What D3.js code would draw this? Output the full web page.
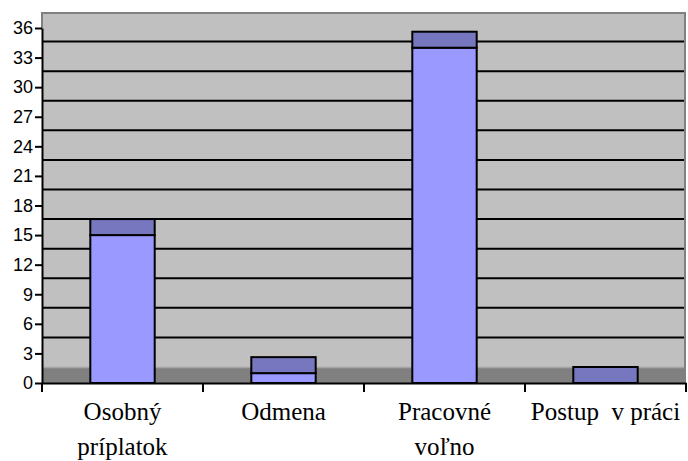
<!DOCTYPE html>
<html>
<head>
<meta charset="utf-8">
<script src="https://cdn.jsdelivr.net/npm/d3@7"></script>
<style>
  html, body { margin: 0; padding: 0; background: #fff; }
  svg { display: block; }
</style>
</head>
<body>
<svg id="chart" width="688" height="461"></svg>
<script>
// Benefit categories and their counts
const categories = ["Osobný príplatok", "Odmena", "Pracovné voľno", "Postup  v práci"];
const labelLines = [["Osobný", "príplatok"], ["Odmena"], ["Pracovné", "voľno"], ["Postup  v práci"]];
const values = [15, 1, 34, 0];
const yTicks = [0, 3, 6, 9, 12, 15, 18, 21, 24, 27, 30, 33, 36];

const svg = d3.select("#chart");
const plotLeft = 42, plotRight = 686, plotBottom = 383, plotTop = 28;
const depth = 16; // vertical offset of the back wall / column tops

const x = d3.scaleBand().domain(categories).range([plotLeft, plotRight]).paddingInner(0).paddingOuter(0);
const y = d3.scaleLinear().domain([0, 36]).range([plotBottom, plotTop]);

// Back wall
svg.append("rect")
  .attr("x", plotLeft).attr("y", y(36) - depth)
  .attr("width", plotRight - plotLeft - 1).attr("height", y(0) - y(36))
  .attr("fill", "#c0c0c0");

// Wall border (left stub, top and right)
svg.append("path")
  .attr("d", `M${plotLeft},${y(36)}V${y(36) - depth + 1}H${plotRight - 1}V${plotBottom}`)
  .attr("fill", "none").attr("stroke", "#808080").attr("stroke-width", 2);

// Floor
svg.append("rect")
  .attr("x", plotLeft).attr("y", y(0) - depth)
  .attr("width", plotRight - plotLeft - 2).attr("height", depth)
  .attr("fill", "#808080");
svg.append("line")
  .attr("x1", plotLeft).attr("x2", plotRight - 2)
  .attr("y1", y(0) - depth + 0.5).attr("y2", y(0) - depth + 0.5)
  .attr("stroke", "#a4a4a4").attr("stroke-width", 1.5);

// Gridlines on the back wall
svg.append("g").selectAll("line")
  .data(yTicks.filter(d => d > 0 && d < 36))
  .join("line")
  .attr("x1", plotLeft).attr("x2", plotRight - 2)
  .attr("y1", d => y(d) - depth).attr("y2", d => y(d) - depth)
  .attr("stroke", "#000").attr("stroke-width", 2);

// Columns: front face plus darker top face
const bw = x.bandwidth() * 0.4;
const cols = svg.append("g").selectAll("g")
  .data(categories.map((c, i) => ({ c, v: values[i] })))
  .join("g");

cols.filter(d => d.v > 0).append("rect")
  .attr("x", d => x(d.c) + (x.bandwidth() - bw) / 2)
  .attr("y", d => y(d.v))
  .attr("width", bw)
  .attr("height", d => y(0) - y(d.v))
  .attr("fill", "#9999ff").attr("stroke", "#000").attr("stroke-width", 2);

cols.append("rect")
  .attr("x", d => x(d.c) + (x.bandwidth() - bw) / 2)
  .attr("y", d => y(d.v) - depth)
  .attr("width", bw)
  .attr("height", depth)
  .attr("fill", "#7777bf").attr("stroke", "#000").attr("stroke-width", 2);

// Y axis
const yAxis = svg.append("g")
  .attr("transform", `translate(${plotLeft},0)`)
  .call(d3.axisLeft(y).tickValues(yTicks).tickSize(7).tickPadding(2).tickSizeOuter(0));
yAxis.select(".domain").attr("stroke", "#000").attr("stroke-width", 2);
yAxis.selectAll(".tick line").attr("stroke", "#000").attr("stroke-width", 2);
yAxis.selectAll(".tick text")
  .style("font-family", "'Liberation Sans', Arial, sans-serif")
  .style("font-size", "18px").attr("fill", "#000");

// X axis
const xAxis = svg.append("g")
  .attr("transform", `translate(0,${plotBottom})`)
  .call(d3.axisBottom(x).tickSize(0).tickSizeOuter(0).tickFormat(""));
xAxis.select(".domain").attr("stroke", "#000").attr("stroke-width", 2);

// Category separators below the axis
const bounds = categories.map(c => x(c)).concat([plotRight]);
svg.append("g").selectAll("line")
  .data(bounds)
  .join("line")
  .attr("x1", d => d).attr("x2", d => d)
  .attr("y1", plotBottom).attr("y2", plotBottom + 9)
  .attr("stroke", "#000").attr("stroke-width", 2);

// Category labels
const labels = svg.append("g").selectAll("text")
  .data(categories.map((c, i) => ({ c, lines: labelLines[i] })))
  .join("text")
  .attr("x", d => x(d.c) + x.bandwidth() / 2)
  .attr("y", 420)
  .attr("text-anchor", "middle")
  .style("font-family", "'Liberation Serif', 'Times New Roman', serif")
  .style("font-size", "25px")
  .attr("fill", "#000")
  .style("white-space", "pre");
labels.selectAll("tspan")
  .data(d => d.lines.map(l => ({ l, xc: x(d.c) + x.bandwidth() / 2 })))
  .join("tspan")
  .attr("x", t => t.xc)
  .attr("dy", (t, i) => i === 0 ? 0 : 35)
  .text(t => t.l);
</script>
</body>
</html>
